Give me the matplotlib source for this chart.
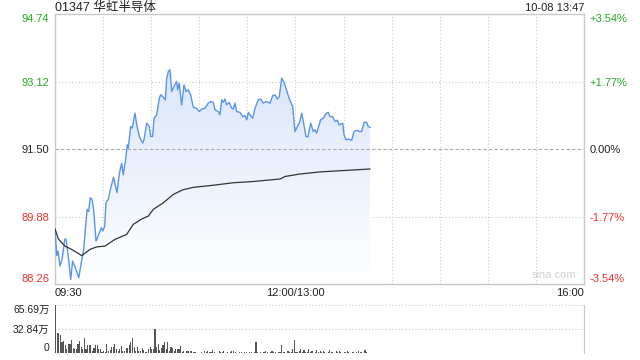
import numpy as np
import matplotlib
matplotlib.use("Agg")
from matplotlib import pyplot as plt
from matplotlib.patches import Polygon

plt.rcParams["font.family"] = ["Liberation Sans", "Noto Sans CJK SC"]

# minutes since 09:30 (trading minutes, lunch break removed)
price_min = [0, 1.1, 1.9, 3.1, 4.4, 6.1, 6.9, 8.5, 9.8, 11, 12.7, 14.8, 16.4, 17.9,
             20, 21, 22, 23.1, 24.1, 25.6, 27.3, 28.9, 29.8, 31, 31.8, 33.2, 34.5,
             36.5, 38.7, 40.2, 41.6, 42.6, 44.3, 45.1, 45.7, 47.2, 48.2, 49.9, 51,
             52.6, 54.7, 55.5, 57.2, 58.8, 59.7, 60.9, 61.8, 63.4, 65.1, 65.9, 67.2,
             68.8, 69.7, 70.7, 71.7, 72.8, 74.2, 75.9, 76.5, 77.5, 79, 80.5, 81.7,
             83.2, 84.6, 86.3, 88.4, 90, 91.5, 93.6, 95.6, 97.1, 98.7, 99.8, 101.9,
             102.9, 104, 105, 106, 107.1, 108.7, 110.2, 111.2, 112.3, 113.3, 115.4,
             117.1, 118.5, 119.6, 120.6, 121.6, 123.3, 124.8, 126.8, 128.3, 129.9,
             131.6, 134.1, 135.8, 137.2, 138.7, 139.9, 141.4, 142.9, 144.5, 146,
             148.3, 149.7, 151.2, 152.4, 153.9, 154.9, 156.6, 157.8, 159.5, 161.1,
             162.2, 163.2, 165.7, 167.4, 169, 170.5, 171.5, 173.2, 174.7, 176.1,
             177.3, 179.5, 180.3, 181.5, 183, 185.1, 186.5, 188.2, 189.8, 191.3,
             192.8, 194.4, 195.4, 196.5]
price = [89.58, 88.94, 89.05, 88.69, 88.85, 89.33, 89.34, 88.85, 88.37, 88.81, 88.65,
         88.41, 88.77, 89.09, 90.05, 90.00, 90.33, 90.29, 90.05, 89.29, 89.45, 89.61,
         89.53, 89.65, 90.21, 90.29, 90.52, 90.82, 90.45, 90.93, 91.16, 90.88, 91.32,
         91.60, 91.52, 92.04, 92.00, 92.36, 92.08, 91.80, 91.64, 91.72, 92.12, 92.04,
         91.80, 91.80, 92.24, 92.32, 92.72, 92.80, 92.76, 92.68, 93.20, 93.36, 93.40,
         92.88, 93.00, 93.12, 92.92, 93.08, 92.56, 93.04, 92.88, 92.92, 92.80, 92.50,
         92.47, 92.40, 92.46, 92.48, 92.60, 92.64, 92.62, 92.44, 92.40, 92.32, 92.68,
         92.62, 92.70, 92.56, 92.62, 92.48, 92.46, 92.60, 92.40, 92.38, 92.28, 92.30,
         92.20, 92.38, 92.32, 92.24, 92.48, 92.68, 92.70, 92.60, 92.64, 92.60, 92.78,
         92.80, 92.70, 92.76, 93.20, 93.10, 92.90, 92.72, 92.52, 91.92, 92.04, 92.12,
         92.36, 92.16, 91.80, 91.79, 92.12, 91.92, 91.96, 91.88, 92.20, 92.24, 92.35,
         92.38, 92.28, 92.27, 92.16, 92.19, 92.08, 92.12, 91.84, 91.72, 91.74, 91.71,
         91.92, 91.95, 91.92, 91.92, 92.14, 92.14, 92.04, 92.02]

avg_min = [0, 2.1, 6.2, 10.4, 16.7, 21.8, 26, 31.2, 37.4, 44.7, 48.8, 54.1, 58.2,
           61.3, 67.6, 73.8, 79.7, 86.3, 98.7, 111.2, 123.7, 140.4, 143.5, 152.8,
           165.3, 196.5]
avg_price = [89.58, 89.34, 89.17, 89.09, 88.94, 89.09, 89.15, 89.17, 89.33, 89.45,
             89.69, 89.82, 89.89, 90.05, 90.21, 90.41, 90.52, 90.58, 90.63, 90.69,
             90.72, 90.78, 90.84, 90.90, 90.95, 91.02]

# volume per minute, in 万 shares
volume = [65.7, 28, 27, 24.5, 15.5, 17, 11, 5, 13, 13, 18, 6.5, 6, 5, 13, 17, 8.5, 6,
          20, 5, 11, 11, 11, 3, 7.5, 11, 11, 5, 5, 1, 2.5, 1.5, 13, 3, 4, 8.5, 8.5, 12,
          5, 3, 5, 10, 2.5, 2.5, 6.5, 6.5, 11, 15.5, 20, 8.5, 3, 8.5, 2.5, 3, 6.5, 4,
          1.5, 1, 5, 8.5, 5, 5, 32.4, 8.5, 12, 4, 6.5, 11, 15.5, 5, 15.5, 3, 8.5, 6.5,
          3, 5, 5, 5, 10, 1.5, 3, 0.5, 3, 3, 2.5, 2.5, 1.5, 1.5, 0.5, 0.5, 0.5, 1, 0.3,
          2.5, 1, 2.5, 1, 1, 4, 1.5, 0.5, 0.5, 2.5, 1, 1, 2.5, 0.5, 1, 0.5, 1.5, 3,
          2.5, 1.5, 0.5, 0.5, 1, 1.5, 0.5, 1, 2, 0.5, 1, 1.5, 0.5, 1, 15.5, 1, 0.5, 1,
          0.5, 1, 2.5, 1, 0.5, 1.5, 3, 1, 2, 0.5, 1, 1.5, 11, 2, 1, 0.5, 3, 1, 1.5,
          5, 17.8, 2, 1, 3, 5, 1.5, 4, 1, 2, 5, 1, 3, 0.5, 2, 4, 1, 2.5, 1, 3, 1.5,
          0.5, 2, 3.5, 1, 1.5, 0.5, 2.5, 1, 3, 1.5, 0.5, 2, 1, 3, 1.5, 0.5, 1, 2, 0.5,
          1.5, 3, 1, 2, 0.5, 4, 1]

price_ticks = [88.26, 89.88, 91.50, 93.12, 94.74]
pct_labels = ["-3.54%", "-1.77%", "0.00%", "+1.77%", "+3.54%"]
tick_colors = ["#f03030", "#f03030", "#222222", "#22aa22", "#22aa22"]
vol_ticks = [0, 32.84, 65.69]
vol_labels = ["0", "32.84万", "65.69万"]

grid_c = "#cccccc"
fig = plt.figure(figsize=(6.4, 3.6), dpi=100)
ax = fig.add_axes([55 / 640, 1 - 284 / 360, 529 / 640, 270 / 360])
ax.set_xlim(0, 330)
ax.set_ylim(88.26, 94.74)

# gradient fill under the price line
xs = np.array(price_min)
ys = np.array(price)
poly = Polygon(np.column_stack([np.r_[xs, xs[-1], xs[0]], np.r_[ys, 88.26, 88.26]]),
               closed=True, facecolor="none", edgecolor="none")
ax.add_patch(poly)
grad = np.linspace(1, 0, 256).reshape(-1, 1)
top = np.array([0.85, 0.90, 0.98])
bot = np.array([1.0, 1.0, 1.0])
img = bot + (top - bot) * grad[..., None]
im = ax.imshow(img, extent=[0, 330, 88.26, 93.5], aspect="auto", origin="upper", zorder=1)
im.set_clip_path(poly)

ax.plot(price_min, price, color="#5b93ec", lw=1.0, zorder=3)
ax.plot(avg_min, avg_price, color="#333333", lw=0.9, zorder=3)

for t in range(30, 330, 30):
    ax.axvline(t, color=grid_c, ls=(0, (1, 2)), lw=0.8, zorder=0)
for p in price_ticks[1:-1]:
    if p == 91.50:
        ax.axhline(p, color="#aaaaaa", ls=(0, (3, 2)), lw=0.8, zorder=2)
    else:
        ax.axhline(p, color=grid_c, ls=(0, (1, 2)), lw=0.8, zorder=0)

for s in ax.spines.values():
    s.set_color("#c8c8c8")
    s.set_linewidth(1)

ax.set_yticks(price_ticks)
ax.set_yticklabels(["%.2f" % p for p in price_ticks])
ax.tick_params(axis="y", length=0, pad=4, labelsize=8)
for lab, c in zip(ax.get_yticklabels(), tick_colors):
    lab.set_color(c)
ax.get_yticklabels()[0].set_verticalalignment("bottom")
ax.get_yticklabels()[-1].set_verticalalignment("top")

ax.set_xticks([0, 150, 330])
ax.set_xticklabels(["09:30", "12:00/13:00", "16:00"])
ax.tick_params(axis="x", length=0, pad=3, labelsize=8, labelcolor="#222222")
xl = ax.get_xticklabels()
xl[0].set_horizontalalignment("left")
xl[2].set_horizontalalignment("right")

ax2 = ax.twinx()
ax2.set_ylim(88.26, 94.74)
ax2.set_yticks(price_ticks)
ax2.set_yticklabels(pct_labels)
ax2.tick_params(axis="y", length=0, pad=4, labelsize=8)
for lab, c in zip(ax2.get_yticklabels(), tick_colors):
    lab.set_color(c)
ax2.get_yticklabels()[0].set_verticalalignment("bottom")
ax2.get_yticklabels()[-1].set_verticalalignment("top")
for s in ax2.spines.values():
    s.set_visible(False)

ax.text(0.985, 0.015, "sina.com", transform=ax.transAxes, ha="right", va="bottom",
        fontsize=8, color="#d0d0d0")
fig.text(55 / 640, 1 - 8 / 360, "01347 华虹半导体", ha="left", va="center",
         fontsize=9, color="#222222")
fig.text(584 / 640, 1 - 8 / 360, "10-08 13:47", ha="right", va="center",
         fontsize=8, color="#222222")

# volume panel
vx = fig.add_axes([55 / 640, 1 - 353 / 360, 529 / 640, 48 / 360])
vx.set_xlim(0, 330)
vx.set_ylim(0, 65.69)
vx.bar(np.arange(len(volume)), volume, width=0.7, color="#555555", align="edge", zorder=2)
for v in vol_ticks:
    vx.axhline(v, color=grid_c, ls=(0, (1, 2)), lw=0.8, zorder=0)
for k, s in vx.spines.items():
    s.set_visible(k == "right")
vx.spines["right"].set_color("#c8c8c8")
vx.set_xticks([])
vx.set_yticks(vol_ticks)
vx.set_yticklabels(vol_labels)
vx.tick_params(axis="y", length=0, pad=4, labelsize=7.5, labelcolor="#222222")
vl = vx.get_yticklabels()
vl[0].set_verticalalignment("bottom")
vl[-1].set_verticalalignment("top")

fig.savefig("out.png", dpi=100)
